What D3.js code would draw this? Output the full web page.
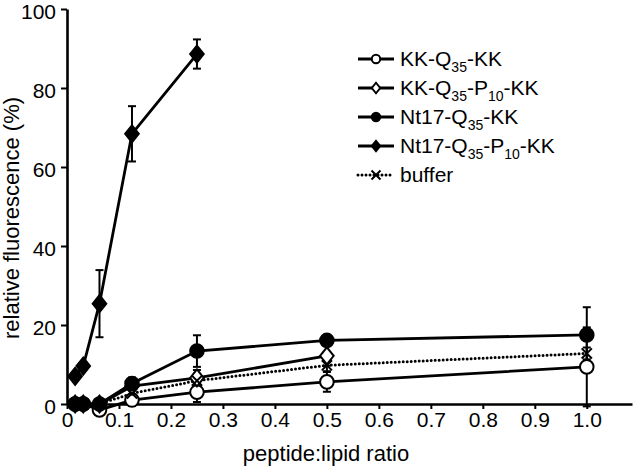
<!DOCTYPE html>
<html>
<head>
<meta charset="utf-8">
<script src="https://cdn.jsdelivr.net/npm/d3@7"></script>
<style>
  html, body { margin: 0; padding: 0; background: #fff; }
  svg { display: block; }
  text { font-family: "Liberation Sans", Arial, Helvetica, sans-serif; fill: #000; }
</style>
</head>
<body>
<svg id="chart" width="633" height="469"></svg>
<script>
// ---------- data ----------
const xValues = [0.015625, 0.03125, 0.0625, 0.125, 0.25, 0.5, 1.0];
const xTicks = [0, 0.1, 0.2, 0.3, 0.4, 0.5, 0.6, 0.7, 0.8, 0.9, 1.0];
const yTicks = [0, 20, 40, 60, 80, 100];

const kkQ35KK      = [0, 0, -1.5, 1.0, 3.0, 5.6, 9.4];
const kkQ35KKErr   = [0, 0, 1.0, 1.5, 2.5, 2.5, 10.0];

const kkQ35P10KK    = [0, 0, 0, 4.5, 6.6, 12.2];
const kkQ35P10KKErr = [0, 0, 0.5, 1.0, 2.0, 2.5];

const nt17Q35KK    = [0, 0, 0, 5.2, 13.4, 16.1, 17.5];
const nt17Q35KKErr = [0, 0, 0.5, 1.5, 4.0, 0.6, 7.0];

const nt17Q35P10KK    = [7.0, 9.6, 25.4, 68.4, 88.6];
const nt17Q35P10KKErr = [0.8, 1.0, 8.5, 7.0, 3.7];

const bufferVals = [0, 0, 0, 2.7, 5.9, 9.8, 12.8];
const bufferErr  = [0, 0, 0.5, 1.0, 1.5, 1.5, 1.5];

const series = [
  { name: [["KK-Q",0],["35",1],["-KK",0]], vals: kkQ35KK, err: kkQ35KKErr, marker: "circle", fill: "#fff", dotted: false },
  { name: [["KK-Q",0],["35",1],["-P",0],["10",1],["-KK",0]], vals: kkQ35P10KK, err: kkQ35P10KKErr, marker: "diamond", fill: "#fff", dotted: false },
  { name: [["Nt17-Q",0],["35",1],["-KK",0]], vals: nt17Q35KK, err: nt17Q35KKErr, marker: "circle", fill: "#000", dotted: false },
  { name: [["Nt17-Q",0],["35",1],["-P",0],["10",1],["-KK",0]], vals: nt17Q35P10KK, err: nt17Q35P10KKErr, marker: "diamond", fill: "#000", dotted: false },
  { name: [["buffer",0]], vals: bufferVals, err: bufferErr, marker: "x", fill: "none", dotted: true }
];

// ---------- layout ----------
const svg = d3.select("#chart");
const x = d3.scaleLinear().domain([0, 1.087]).range([67, 632]);
const y = d3.scaleLinear().domain([0, 100]).range([404, 9]);

// axes
const xAxis = svg.append("g").attr("transform", `translate(0,${y(0)})`)
  .call(d3.axisBottom(x).tickValues(xTicks).tickSize(5).tickSizeOuter(0)
    .tickFormat(d => d === 0 ? "0" : d3.format(".1f")(d)));
const yAxis = svg.append("g").attr("transform", `translate(${x(0)},0)`)
  .call(d3.axisLeft(y).tickValues(yTicks).tickSize(6).tickSizeOuter(0));

[xAxis, yAxis].forEach(g => {
  g.select(".domain").attr("stroke", "#000").attr("stroke-width", 2.6);
  g.selectAll(".tick line").attr("stroke", "#000").attr("stroke-width", 2);
  g.selectAll(".tick text").attr("font-size", 21).attr("fill", "#000")
    .attr("font-family", '"Liberation Sans", Arial, sans-serif');
});
yAxis.selectAll(".tick text").attr("x", -11).attr("dy", "0.45em");

// axis titles
svg.append("text").attr("x", 326).attr("y", 461).attr("text-anchor", "middle")
  .attr("font-size", 22).text("peptide:lipid ratio");
svg.append("text").attr("transform", "translate(19,218) rotate(-90)")
  .attr("text-anchor", "middle").attr("font-size", 22).text("relative fluorescence (%)");

// marker drawer
function drawMarker(g, type, cx, cy, fill, r) {
  if (type === "circle") {
    g.append("circle").attr("cx", cx).attr("cy", cy).attr("r", r)
      .attr("fill", fill).attr("stroke", "#000").attr("stroke-width", 2);
  } else if (type === "diamond") {
    const d = r * 1.25;
    g.append("path").attr("d", `M${cx},${cy - d}L${cx + d * 0.8},${cy}L${cx},${cy + d}L${cx - d * 0.8},${cy}Z`)
      .attr("fill", fill).attr("stroke", "#000").attr("stroke-width", 2);
  } else {
    const d = r * 0.75;
    g.append("path").attr("d", `M${cx - d},${cy - d}L${cx + d},${cy + d}M${cx + d},${cy - d}L${cx - d},${cy + d}`)
      .attr("stroke", "#000").attr("stroke-width", 2).attr("fill", "none");
  }
}

const plot = svg.append("g");
const line = d3.line().x(d => x(d[0])).y(d => y(d[1]));

// lines
series.forEach(s => {
  const pts = s.vals.map((v, i) => [xValues[i], v]);
  plot.append("path").datum(pts).attr("d", line).attr("fill", "none")
    .attr("stroke", "#000").attr("stroke-width", s.dotted ? 3 : 2.8)
    .attr("stroke-dasharray", s.dotted ? "0,4" : null)
    .attr("stroke-linecap", s.dotted ? "round" : "butt");
});

// error bars
series.forEach(s => {
  s.vals.forEach((v, i) => {
    const e = s.err[i];
    if (!e) return;
    const cx = x(xValues[i]);
    const g = plot.append("g").attr("stroke", "#000").attr("stroke-width", 2);
    g.append("line").attr("x1", cx).attr("x2", cx).attr("y1", y(v + e)).attr("y2", y(v - e));
    g.append("line").attr("x1", cx - 4).attr("x2", cx + 4).attr("y1", y(v + e)).attr("y2", y(v + e));
    g.append("line").attr("x1", cx - 4).attr("x2", cx + 4).attr("y1", y(v - e)).attr("y2", y(v - e));
  });
});

// markers
series.forEach(s => {
  s.vals.forEach((v, i) => {
    drawMarker(plot, s.marker, x(xValues[i]), y(v), s.fill, 6.8);
  });
});

// legend
const legend = svg.append("g");
const legX1 = 358, legX2 = 394, legText = 400, legY0 = 59, legDy = 29;
series.forEach((s, i) => {
  const cy = legY0 + i * legDy;
  legend.append("line").attr("x1", legX1).attr("x2", legX2).attr("y1", cy).attr("y2", cy)
    .attr("stroke", "#000").attr("stroke-width", s.dotted ? 3 : 2.8)
    .attr("stroke-dasharray", s.dotted ? "0,4" : null)
    .attr("stroke-linecap", s.dotted ? "round" : "butt");
  drawMarker(legend, s.marker, (legX1 + legX2) / 2, cy, s.fill, s.marker === "x" ? 6 : 4.2);
  const t = legend.append("text").attr("x", legText).attr("y", cy + 7).attr("font-size", 21);
  s.name.forEach(([str, sub], k) => {
    t.append("tspan").attr("font-size", sub ? 14 : 21)
      .attr("dy", sub ? 6 : (k > 0 ? -6 : 0))
      .text(str);
  });
});
</script>
</body>
</html>
